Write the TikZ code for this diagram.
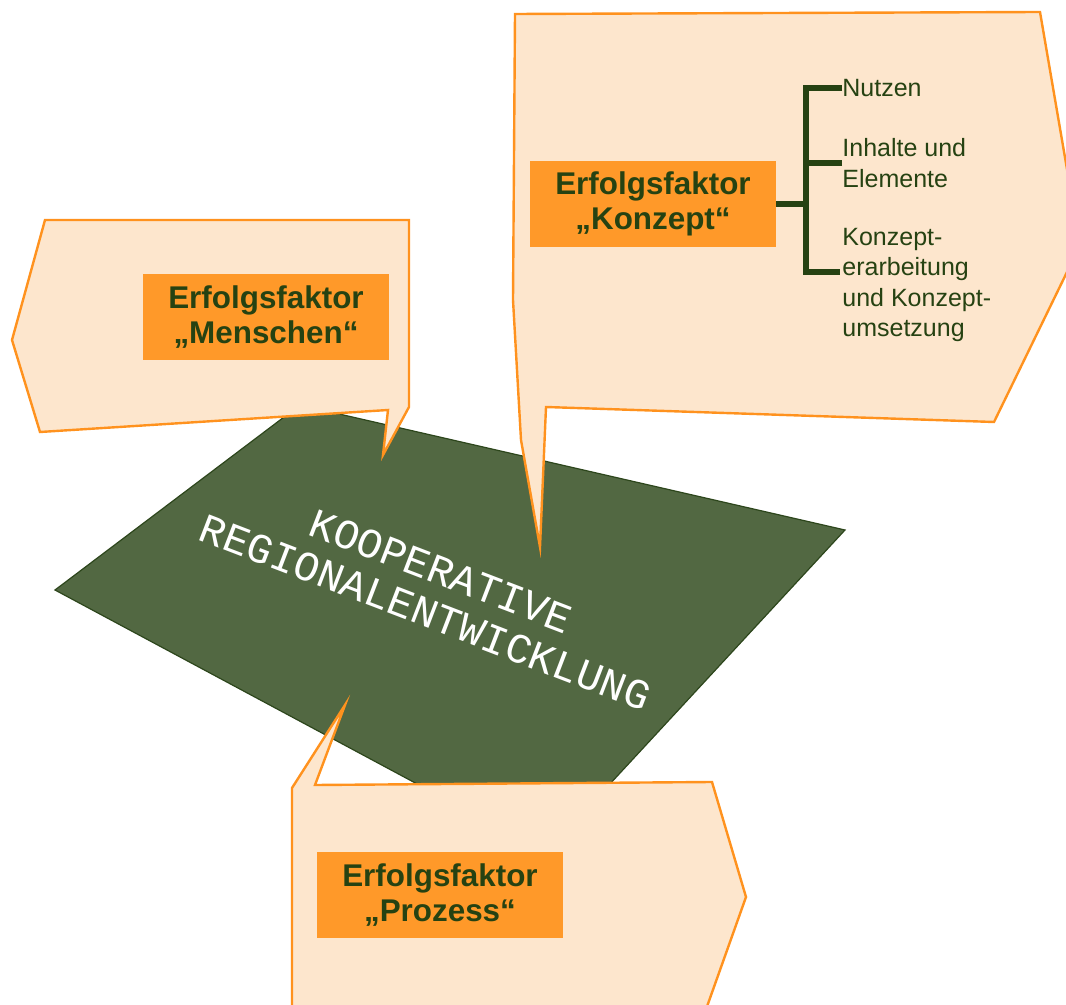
\documentclass[tikz,border=0pt]{standalone}
\usepackage{fontspec}
\setmainfont{Liberation Sans}
\newfontfamily\platefont{Liberation Mono}
\usetikzlibrary{positioning}
\definecolor{peach}{RGB}{253,230,205}
\definecolor{calloutline}{RGB}{255,146,30}
\definecolor{boxorange}{RGB}{255,153,41}
\definecolor{darkgreen}{RGB}{38,66,18}
\definecolor{plategreen}{RGB}{82,104,66}
\definecolor{plateedge}{RGB}{45,70,28}
\tikzstyle{callout} = [fill=peach, draw=calloutline, line width=1.2pt]
\tikzstyle{factor} = [rectangle, minimum width=123pt, minimum height=43pt, align=center, fill=boxorange, text=darkgreen, font=\fontsize{15.7}{17.5}\selectfont\bfseries]
\tikzstyle{item} = [anchor=west, align=left, inner sep=0pt, text=darkgreen, font=\fontsize{12.5}{15.25}\selectfont]
\tikzstyle{bracket} = [draw=darkgreen, line width=2.6pt]
\tikzstyle{platetext} = [white, rotate=-21, inner sep=0pt, align=center, font=\platefont\fontsize{21}{22}\selectfont]

\begin{document}
\begin{tikzpicture}[x=0.5pt, y=-0.5pt]
\useasboundingbox (0,0) rectangle (1066,1005);
\clip (0,0) rectangle (1066,1005);

% plate
\draw[fill=plategreen, draw=plateedge, line width=0.6pt] (55,590) -- (300,405) -- (845,530) -- (546,853) -- cycle;
\node[platetext] (regio) at (433,592) {KOOPERATIVE\\REGIONALENTWICKLUNG};

% callouts
\draw[callout] (45,220) -- (409,220) -- (409,407) -- (383,455) -- (388,410) -- (40,432) -- (12,340) -- cycle;
\draw[callout] (515,14) -- (1040,12) -- (1068,175) -- (1068,270) -- (994,422) -- (546,407) -- (540,547) -- (521,440) -- (513,300) -- cycle;
\draw[callout] (292,1015) -- (292,788) -- (345,705) -- (315,785) -- (712,782) -- (746,897) -- (704,1015) -- cycle;

\node[factor] (menschen) at (266,317) {Erfolgsfaktor\\„Menschen“};
\node[factor] (konzept) at (653,204) {Erfolgsfaktor\\„Konzept“};
\node[factor] (prozess) at (440,895) {Erfolgsfaktor\\„Prozess“};

\node[item] (nutzen) at (842,88) {Nutzen};
\node[item] (inhalte) at (842,163) {Inhalte und\\Elemente};
\node[item] (umsetzung) at (842,285) {Konzept-\\erarbeitung\\und Konzept-\\umsetzung};

\coordinate (bartop) at (806,88);
\coordinate (barlow) at (840,272);
\draw[bracket] (nutzen.west) -- (bartop) -- (bartop |- barlow) -- (barlow);
\draw[bracket] (inhalte.west) -- (inhalte.west -| bartop);
\draw[bracket] (konzept.east) -- (konzept.east -| bartop);

\end{tikzpicture}
\end{document}
